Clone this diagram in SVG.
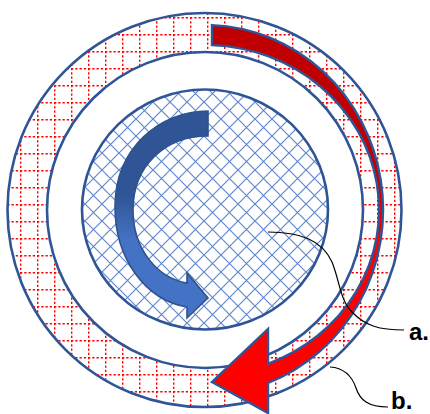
<svg xmlns="http://www.w3.org/2000/svg" width="430" height="414" viewBox="0 0 430 414">
<style>
.ring{stroke:#2f5597;stroke-width:2.6}
.lead{fill:none;stroke:#000;stroke-width:1.2}
.lbl{font-family:"Liberation Sans",Arial,sans-serif;font-weight:bold;font-size:24px;fill:#000}
</style>
<defs>
<pattern id="redgrid" patternUnits="userSpaceOnUse" x="3" y="0" width="17" height="17">
<rect width="17" height="17" fill="#fff"/>
<path d="M0.7,0 V17 M0,0.7 H17" stroke="#ff0000" stroke-width="1.4" stroke-dasharray="2.3 1.95" fill="none"/>
</pattern>
<pattern id="bluehatch" patternUnits="userSpaceOnUse" x="0" y="0" width="17" height="17">
<rect width="17" height="17" fill="#fff"/>
<path d="M-2,-2 L19,19 M-2,19 L19,-2" stroke="#4472c4" stroke-width="1.2" fill="none" opacity="0.85"/>
</pattern>
<linearGradient id="redfill" gradientUnits="userSpaceOnUse" x1="0" y1="170" x2="0" y2="245">
<stop offset="0" stop-color="#c00000"/>
<stop offset="1" stop-color="#ff0000"/>
</linearGradient>
<linearGradient id="bluefill" gradientUnits="userSpaceOnUse" x1="0" y1="195" x2="0" y2="240">
<stop offset="0" stop-color="#2f5597"/>
<stop offset="1" stop-color="#4472c4"/>
</linearGradient>
</defs>
<rect width="430" height="414" fill="#fff"/>
<g id="outer-ring">
<circle cx="204.5" cy="210" r="197" fill="url(#redgrid)" class="ring"/>
</g>
<g id="gap-ring">
<circle cx="205" cy="210" r="158" fill="#fff" class="ring"/>
</g>
<g id="core">
<ellipse cx="205" cy="209.5" rx="123" ry="120" fill="url(#bluehatch)" class="ring"/>
</g>
<g id="red-arrow">
<path d="M212,25.1 A178,185 0 0 1 268,383 L268,413 L212,382 L268,329 L268,363.8 A174,165 0 0 0 212,45.1 Z" fill="url(#redfill)" stroke="#2f5597" stroke-width="2.4" stroke-linejoin="miter"/>
</g>
<g id="blue-arrow">
<path d="M208,111 C160,111 115,148 115,207 C115,258 145,300 187,307 L187,318 L208,298 L187,273 L187,283 C158,278 133,250 133,210 C133,166 165,136 208,136 Z" fill="url(#bluefill)" stroke="#2f528f" stroke-width="1.6" stroke-linejoin="miter"/>
</g>
<g id="connectors">
<path class="lead" d="M268,232 C300,232 322,240 332,262 C340,282 340,300 352,312 C365,326 380,330 404,330"/>
<path class="lead" d="M330,367 C345,368 352,376 356,388 C360,400 368,407 388,407"/>
</g>
<g id="labels">
<text class="lbl" x="409" y="340">a.</text>
<text class="lbl" x="391" y="409">b.</text>
</g>
</svg>
